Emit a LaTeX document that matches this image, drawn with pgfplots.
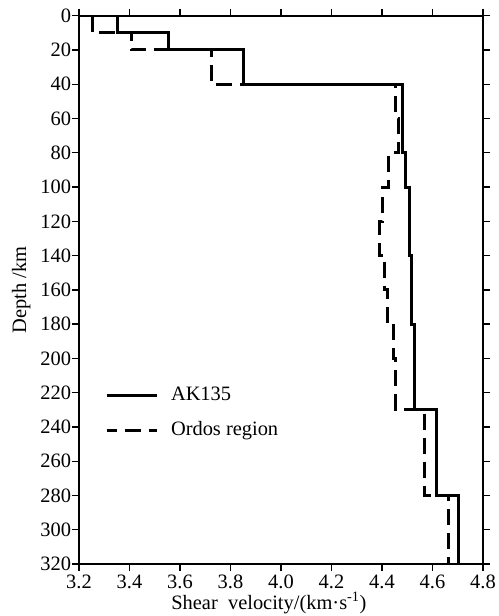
\documentclass[border=0pt]{standalone}
\usepackage{fontspec}
\setmainfont{Liberation Serif}
\usepackage{pgfplots}
\pgfplotsset{compat=1.18}
\begin{document}
\fontsize{20.5}{24}\selectfont
\begin{tikzpicture}
\begin{axis}[
 scale only axis, width=404bp, height=548.3bp,
 xmin=3.2, xmax=4.8, ymin=0, ymax=320, y dir=reverse,
 xtick={3.2,3.4,3.6,3.8,4.0,4.2,4.4,4.6,4.8},
 ytick={0,20,40,60,80,100,120,140,160,180,200,220,240,260,280,300,320},
 tick align=outside, major tick length=7bp,
 /pgf/number format/assume math mode=true,
 tick label style={font=\fontsize{20.5}{24}\selectfont},
 xticklabel style={inner sep=0pt, yshift=-3.5bp, /pgf/number format/fixed, /pgf/number format/fixed zerofill, /pgf/number format/precision=1},
 yticklabel style={xshift=6bp},
 axis line style={line width=1.6bp},
 every tick/.style={line width=1.3bp, black},
 xlabel={Shear\ \ velocity/(km·s\textsuperscript{-1})},
 ylabel={Depth /km},
 xlabel style={at={(axis description cs:0.47,-0.0829)}, anchor=base, inner sep=0pt, text height=13bp, text depth=4bp, font=\fontsize{20.5}{24}\selectfont},
 ylabel style={at={(axis description cs:-0.131,0.5)}, anchor=base, font=\fontsize{20.5}{24}\selectfont},
 legend image code/.code={\draw[#1, dash phase=6bp] (0bp,0bp) -- (50bp,0bp);},
 legend cell align=left,
 legend style={at={(axis cs:3.303,216.2)}, anchor=north west, draw=none, fill=none,
   inner sep=0pt, outer sep=0pt, row sep=17bp, column sep=13bp,
   nodes={inner sep=0pt, anchor=west, text height=14bp, text depth=4bp, font=\fontsize{20.5}{24}\selectfont}},
]
\addplot[black, line width=3bp] coordinates {
 (3.353,0) (3.353,10) (3.553,10) (3.553,20) (3.85,20) (3.85,40)
 (4.48,40) (4.48,80) (4.493,80) (4.493,100) (4.508,100) (4.508,140)
 (4.517,140) (4.517,180) (4.527,180) (4.527,230) (4.614,230) (4.614,280)
 (4.704,280) (4.704,320)};
\addlegendentry{AK135}
\addplot[black, line width=3bp, dash pattern=on 16bp off 8bp] coordinates {
 (3.253,0) (3.253,10) (3.406,10) (3.406,20) (3.725,20) (3.725,40)
 (4.455,40) (4.455,60) (4.465,60) (4.465,80) (4.425,80) (4.425,100)
 (4.40,100) (4.40,120) (4.39,120) (4.39,140) (4.41,140) (4.41,160)
 (4.42,160) (4.42,180) (4.447,180) (4.447,200) (4.455,200) (4.455,230)
 (4.569,230) (4.569,280) (4.665,280) (4.665,320)};
\addlegendentry{Ordos region}
\end{axis}
\pgfresetboundingbox
\path[use as bounding box] ([shift={(-79bp,-52bp)}]current axis.south west) rectangle ([shift={(16bp,15.7bp)}]current axis.north east);
\end{tikzpicture}
\end{document}
